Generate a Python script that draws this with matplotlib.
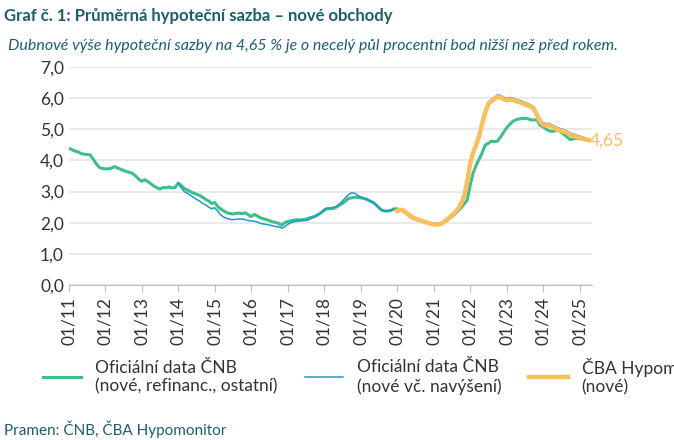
import matplotlib
matplotlib.use("Agg")
import matplotlib.pyplot as plt
import numpy as np

plt.rcParams["font.family"] = "Lato"

cnb_ostatni = [
 4.38,4.35,4.30,4.28,4.22,4.20,4.19,4.18,4.05,3.90,3.78,3.74,
 3.73,3.73,3.75,3.80,3.76,3.72,3.68,3.64,3.62,3.58,3.50,3.40,
 3.33,3.38,3.32,3.25,3.18,3.12,3.08,3.13,3.12,3.15,3.12,3.13,
 3.27,3.20,3.10,3.05,3.00,2.95,2.92,2.88,2.82,2.75,2.70,2.62,
 2.65,2.52,2.44,2.38,2.32,2.30,2.28,2.30,2.31,2.29,2.32,2.26,
 2.20,2.27,2.22,2.16,2.13,2.10,2.07,2.03,2.01,1.98,1.92,2.00,
 2.04,2.06,2.08,2.10,2.09,2.10,2.12,2.15,2.18,2.21,2.26,2.32,
 2.40,2.45,2.45,2.46,2.50,2.57,2.62,2.70,2.78,2.80,2.82,2.81,
 2.80,2.78,2.75,2.70,2.66,2.58,2.48,2.40,2.38,2.38,2.40,2.45,
 2.44,2.42,2.38,2.30,2.22,2.15,2.11,2.08,2.05,2.02,2.00,1.98,
 1.96,1.95,1.96,2.00,2.06,2.13,2.20,2.28,2.38,2.48,2.60,2.72,
 3.20,3.60,3.85,4.05,4.25,4.50,4.55,4.62,4.60,4.62,4.75,4.90,
 5.05,5.15,5.25,5.30,5.33,5.34,5.35,5.34,5.30,5.30,5.30,5.12,
 5.08,5.00,4.95,4.93,4.95,4.96,4.90,4.82,4.74,4.66,4.70,4.70,
 4.70,4.68,4.66,4.65]

cnb_navyseni = [
 3.27,3.12,3.00,2.95,2.88,2.82,2.75,2.70,2.62,2.58,2.50,2.45,
 2.48,2.38,2.25,2.18,2.14,2.11,2.10,2.11,2.12,2.12,2.10,2.07,
 2.06,2.05,2.03,1.98,1.96,1.95,1.93,1.90,1.88,1.87,1.83,1.87,
 1.95,2.00,2.03,2.05,2.06,2.07,2.07,2.10,2.15,2.20,2.26,2.33,
 2.43,2.47,2.47,2.49,2.52,2.60,2.70,2.80,2.90,2.96,2.95,2.88,
 2.83,2.79,2.75,2.70,2.65,2.58,2.48,2.40,2.37,2.37,2.40,2.44,
 2.38,2.42,2.40,2.32,2.25,2.18,2.13,2.10,2.07,2.03,2.00,1.97,
 1.95,1.94,1.95,2.00,2.07,2.15,2.24,2.33,2.45,2.60,2.85,3.30,
 3.92,4.27,4.52,4.82,5.24,5.60,5.88,5.96,6.03,6.10,6.08,6.03,
 5.99,6.01,6.01,5.96,5.93,5.90,5.86,5.82,5.78,5.71,5.51,5.31,
 5.21,5.18,5.19,5.14,5.08,5.04,5.01,4.98,4.94,4.88,4.84,4.81,
 4.78,4.75,4.72,4.67]

hypomonitor = [
 2.38,2.42,2.40,2.32,2.25,2.18,2.13,2.10,2.07,2.03,2.00,1.97,
 1.95,1.94,1.95,2.00,2.07,2.15,2.24,2.33,2.45,2.60,2.85,3.30,
 3.90,4.25,4.50,4.80,5.20,5.55,5.82,5.90,5.97,6.03,6.02,5.97,
 5.93,5.95,5.95,5.90,5.87,5.84,5.80,5.76,5.72,5.65,5.45,5.25,
 5.15,5.12,5.13,5.08,5.02,4.98,4.95,4.92,4.88,4.82,4.78,4.75,
 4.72,4.70,4.68,4.65]

tick_labels = ["01/11","01/12","01/13","01/14","01/15","01/16","01/17","01/18",
               "01/19","01/20","01/21","01/22","01/23","01/24","01/25"]
last_label = "4,65"

green = "#3cbf8b"; teal = "#1a9bc7"; orange = "#fdbf5a"; dark = "#1b5f6e"

fig = plt.figure(figsize=(6.74, 4.4), dpi=100)
ax = fig.add_axes([0.102, 0.352, 0.776, 0.496])

x1 = np.arange(len(cnb_ostatni))
x2 = np.arange(36, 36 + len(cnb_navyseni))
x3 = np.arange(108, 108 + len(hypomonitor))

ax.plot(x1, cnb_ostatni, color=green, lw=2.2, label="Oficiální data ČNB\n(nové, refinanc., ostatní)")
ax.plot(x2, cnb_navyseni, color=teal, lw=1.1, label="Oficiální data ČNB\n(nové vč. navýšení)")
ax.plot(x3, hypomonitor, color=orange, lw=3.2, label="ČBA Hypomonitor\n(nové)")
ax.text(x3[-1] + 0.5, hypomonitor[-1], last_label, color=orange, fontsize=12.5, va="center", ha="left")

ax.set_ylim(0, 7)
ax.set_yticks(np.arange(0, 7.01, 1))
ax.set_yticklabels([f"{v:.1f}".replace(".", ",") for v in np.arange(0, 7.01, 1)], fontsize=12.5, color="#333333")
ax.set_xlim(0, len(cnb_ostatni))
ax.set_xticks(np.arange(len(tick_labels)) * 12)
ax.set_xticklabels(tick_labels, rotation=90, fontsize=12.5, color="#333333")
ax.grid(axis="y", color="#e6e6e6", lw=1.2)
ax.set_axisbelow(True)
for s in ["top", "right", "left"]:
    ax.spines[s].set_visible(False)
ax.spines["bottom"].set_color("#bfbfbf")
ax.tick_params(axis="y", length=0)
ax.tick_params(axis="x", color="#bfbfbf", length=5)

fig.legend(loc="lower left", bbox_to_anchor=(0.04, 0.065), ncol=3, frameon=False,
           fontsize=12.5, handlelength=2.2, columnspacing=1.6, labelcolor="#333333")

fig.text(0.006, 0.963, "Graf č. 1: Průměrná hypoteční sazba – nové obchody", fontsize=12,
         fontweight="bold", color=dark, va="center")
fig.text(0.012, 0.895, "Dubnové výše hypoteční sazby na 4,65 % je o necelý půl procentní bod nižší než před rokem.",
         fontsize=11.5, style="italic", color=dark, va="center")
fig.text(0.006, 0.025, "Pramen: ČNB, ČBA Hypomonitor", fontsize=11, color=dark, va="center")

fig.savefig("out.png", dpi=100)
